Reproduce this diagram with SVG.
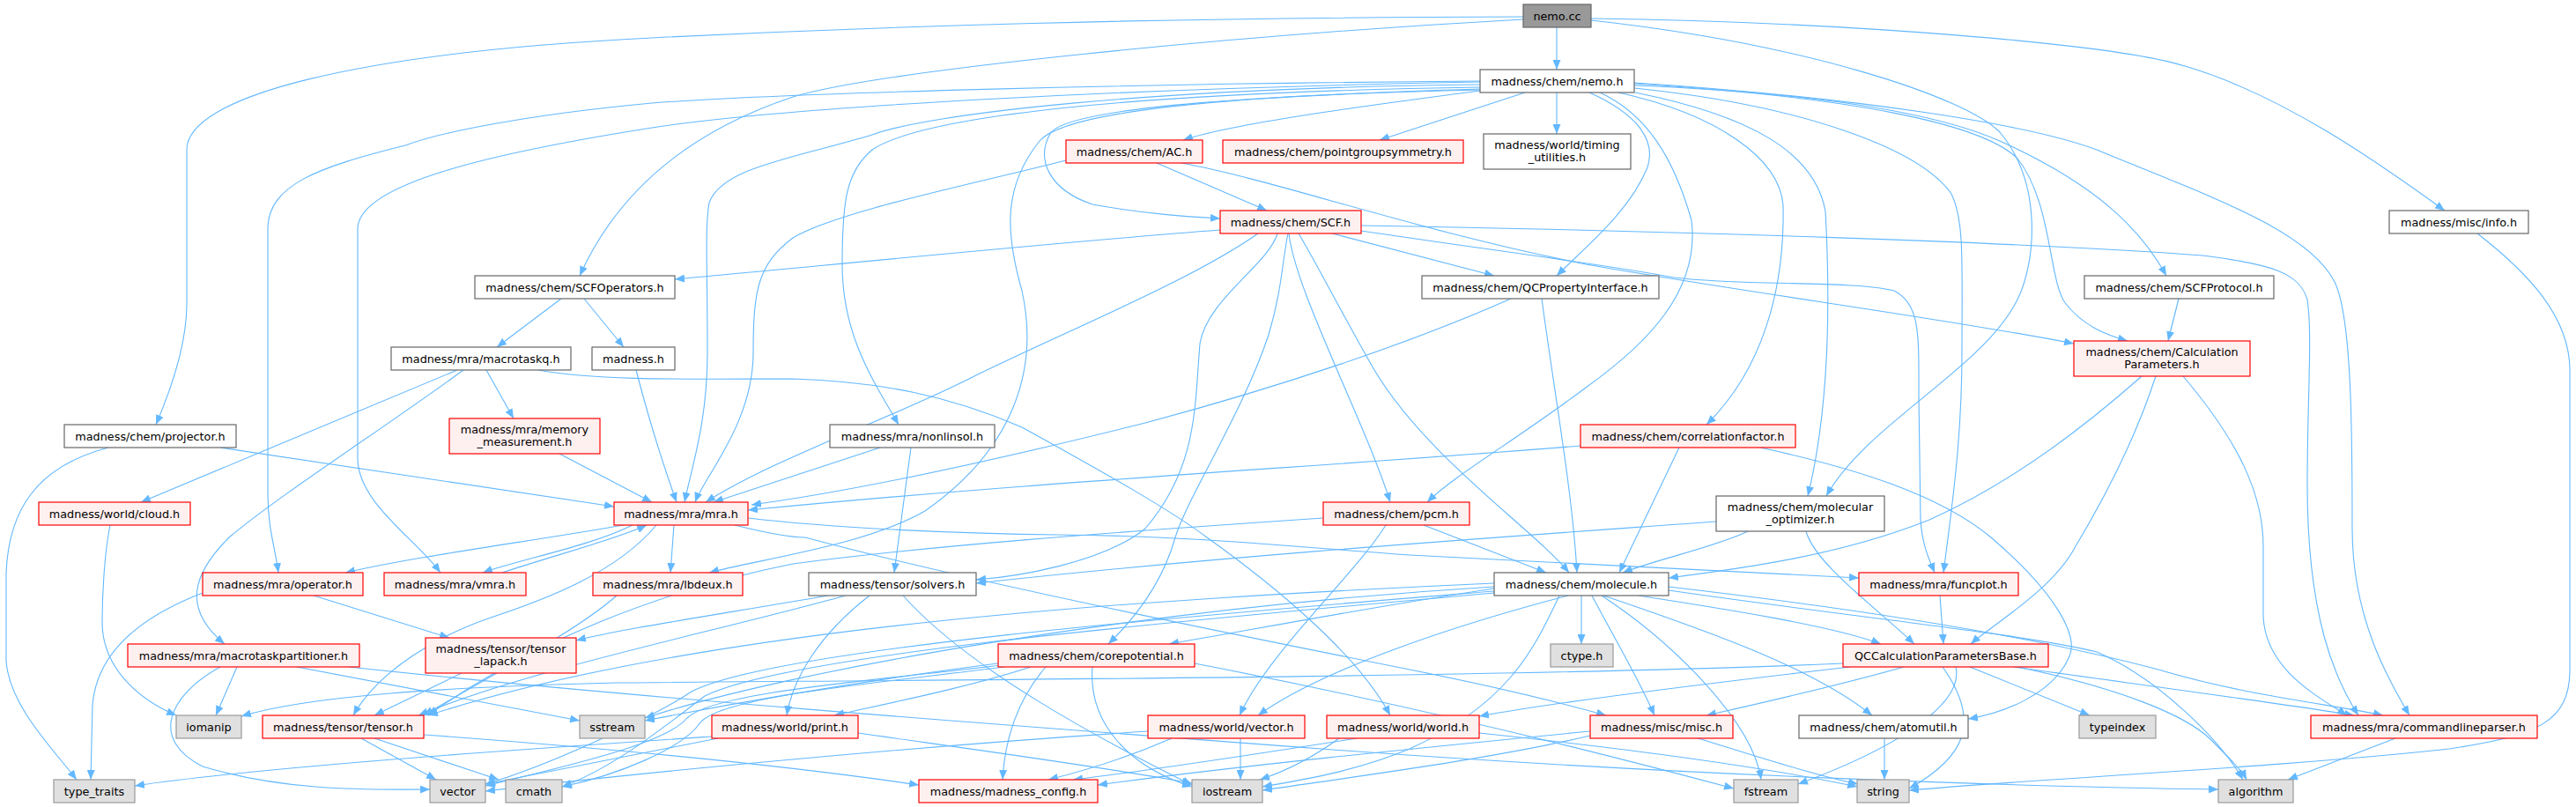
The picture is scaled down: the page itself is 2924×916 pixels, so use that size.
<svg xmlns="http://www.w3.org/2000/svg" width="2924" height="916" viewBox="0 0 2924 916">
<style>
.e{fill:none;stroke:#63b8ff;stroke-width:1.1;marker-end:url(#a)}
.w{fill:#ffffff;stroke:#666666;stroke-width:1.2}
.r{fill:#fff0f0;stroke:#ff0000;stroke-width:1.2}
.s{fill:#e0e0e0;stroke:#999999;stroke-width:1.2}
.k{fill:#999999;stroke:#666666;stroke-width:1.2}
text{font-family:"DejaVu Sans","Liberation Sans",sans-serif;font-size:12.8px;text-anchor:middle;fill:#000000}
</style>
<defs>
<marker id="a" viewBox="0 0 11 9" refX="11" refY="4.5" markerWidth="11" markerHeight="9" markerUnits="userSpaceOnUse" orient="auto"><path d="M0,0 L11,4.5 L0,9 z" fill="#63b8ff"/></marker>
</defs>
<rect width="2924" height="916" fill="#ffffff"/>
<g id="edges">
<path class="e" d="M1767,31 L1767,79"/>
<path class="e" d="M1729,19 C1300,20 1000,30 740,43 C400,60 212,110 212,170 L212,345 C212,390 195,440 177,482"/>
<path class="e" d="M1729,22 C1400,40 1000,80 900,110 C780,150 700,220 658,313"/>
<path class="e" d="M1806,21 C2100,25 2400,50 2480,75 C2600,110 2720,200 2775,239"/>
<path class="e" d="M1806,23 C2050,50 2230,110 2270,150 C2320,210 2310,300 2290,340 C2250,420 2120,480 2073,563"/>
<path class="e" d="M1680,103 C1550,120 1400,140 1343,159"/>
<path class="e" d="M1731,105 L1566,159"/>
<path class="e" d="M1767,105 L1767,152"/>
<path class="e" d="M1680,101 C1450,108 1220,120 1193,150 C1175,180 1190,215 1240,232 C1300,243 1350,246 1385,248"/>
<path class="e" d="M1804,105 C1860,130 1880,160 1870,190 C1850,240 1800,280 1767,313"/>
<path class="e" d="M1855,97 C2050,105 2190,125 2270,160 C2380,210 2430,260 2459,313"/>
<path class="e" d="M1855,95 C2100,110 2250,140 2290,180 C2330,230 2325,320 2345,345 C2365,370 2390,380 2415,387"/>
<path class="e" d="M1855,94 C2100,110 2300,140 2380,170 C2500,220 2620,260 2650,320 C2670,360 2670,500 2670,600 C2670,700 2710,770 2735,812"/>
<path class="e" d="M1855,100 C2050,120 2180,170 2215,220 C2230,250 2227,300 2227,400 C2227,500 2215,580 2206,650"/>
<path class="e" d="M1856,105 C1980,130 2060,170 2072,240 C2078,350 2075,470 2052,563"/>
<path class="e" d="M1837,105 C1950,130 2020,180 2024,233 C2026,330 2000,420 1937,482"/>
<path class="e" d="M1816,105 C1870,130 1900,180 1920,250 C1930,330 1870,390 1800,440 C1720,500 1650,540 1620,570"/>
<path class="e" d="M1680,99 C1300,105 1050,130 990,170 C960,195 956,230 956,300 C956,380 990,430 1020,482"/>
<path class="e" d="M1680,96 C1300,100 1050,130 990,153 C900,180 820,190 805,230 C800,260 803,300 803,400 C803,480 785,530 777,570"/>
<path class="e" d="M1680,93 C1300,100 900,120 740,145 C550,175 406,210 406,260 L406,520 C406,570 470,610 500,650"/>
<path class="e" d="M1680,92 C1300,95 900,105 740,117 C600,130 500,150 460,165 C360,190 304,210 304,260 L304,560 C304,600 312,620 316,650"/>
<path class="e" d="M1680,102 C1400,108 1210,125 1180,160 C1140,210 1140,260 1160,330 C1180,420 1150,510 1050,580 C980,620 860,635 805,650"/>
<path class="e" d="M1313,185 L1438,239"/>
<path class="e" d="M1210,182 C1100,210 950,240 900,270 C860,300 855,330 855,400 C855,480 800,540 789,570"/>
<path class="e" d="M1341,185 C1450,205 1600,260 1800,300 C2000,335 2200,360 2354,390"/>
<path class="e" d="M1385,261 C1200,275 900,305 766,317"/>
<path class="e" d="M1428,265 C1350,320 1200,380 1100,430 C1000,480 880,520 801,570"/>
<path class="e" d="M1450,265 C1440,300 1370,340 1362,390 C1356,460 1360,530 1300,600 C1250,640 1150,655 1108,658"/>
<path class="e" d="M1462,265 C1455,300 1455,330 1440,380 C1410,470 1350,560 1334,610 C1320,660 1290,700 1258,731"/>
<path class="e" d="M1512,265 L1696,313"/>
<path class="e" d="M1474,265 C1495,300 1520,350 1560,420 C1620,520 1740,600 1781,650"/>
<path class="e" d="M1463,265 C1470,330 1550,480 1578,570"/>
<path class="e" d="M1545,256 C1900,262 2300,275 2500,290 C2580,300 2610,310 2619,340 C2625,380 2619,450 2619,550 C2619,700 2650,770 2677,812"/>
<path class="e" d="M1545,262 C1700,285 1820,300 1900,315 C1980,325 2100,318 2150,330 C2180,345 2178,380 2178,450 L2180,590 C2182,620 2190,635 2196,650"/>
<path class="e" d="M637,339 L564,394"/>
<path class="e" d="M663,339 L708,394"/>
<path class="e" d="M1715,339 C1600,390 1450,440 1300,480 C1100,530 950,560 853,573"/>
<path class="e" d="M1750,339 C1765,450 1785,560 1790,650"/>
<path class="e" d="M2473,339 L2461,387"/>
<path class="e" d="M2431,427 C2360,490 2280,550 2190,590 C2090,630 1980,645 1894,656"/>
<path class="e" d="M2447,427 C2420,510 2380,580 2356,620 C2330,670 2260,710 2237,731"/>
<path class="e" d="M2478,427 C2540,500 2569,560 2569,620 L2569,700 C2572,760 2630,790 2664,812"/>
<path class="e" d="M552,420 L583,475"/>
<path class="e" d="M519,420 L160,570"/>
<path class="e" d="M526,420 C430,490 320,560 260,610 C220,650 205,690 255,731"/>
<path class="e" d="M611,420 C680,433 800,430 900,430 C1000,433 1080,450 1160,485 C1260,540 1330,580 1370,610 C1440,660 1540,740 1578,812"/>
<path class="e" d="M722,420 C735,470 750,520 768,570"/>
<path class="e" d="M123,508 C40,530 10,580 7,650 L7,750 C10,800 60,850 87,885"/>
<path class="e" d="M250,508 L697,575"/>
<path class="e" d="M635,515 L740,570"/>
<path class="e" d="M999,508 L810,570"/>
<path class="e" d="M1034,508 L1015,650"/>
<path class="e" d="M1794,506 C1500,530 1200,545 849,579"/>
<path class="e" d="M1906,508 L1838,650"/>
<path class="e" d="M1998,508 C2100,530 2200,560 2260,610 C2330,670 2360,720 2349,745 C2330,790 2270,810 2234,816"/>
<path class="e" d="M125,596 C118,630 116,680 116,706 C116,760 160,795 200,812"/>
<path class="e" d="M1616,596 L1755,650"/>
<path class="e" d="M1573,596 C1540,650 1440,740 1407,812"/>
<path class="e" d="M1502,588 C1250,605 1050,620 900,640 C750,670 600,730 486,812"/>
<path class="e" d="M1984,603 C1950,620 1880,635 1842,650"/>
<path class="e" d="M1948,592 C1700,610 1400,630 1108,662"/>
<path class="e" d="M2050,603 C2060,640 2130,690 2173,731"/>
<path class="e" d="M2202,676 L2206,731"/>
<path class="e" d="M230,673 C160,700 110,740 105,800 L103,885"/>
<path class="e" d="M356,676 L510,724"/>
<path class="e" d="M524,764 L425,812"/>
<path class="e" d="M708,596 C600,615 480,630 392,650"/>
<path class="e" d="M718,596 C670,620 590,635 548,650"/>
<path class="e" d="M570,650 C630,630 700,612 734,596"/>
<path class="e" d="M765,596 L761,650"/>
<path class="e" d="M745,596 C700,650 620,680 560,700 C500,720 430,760 401,812"/>
<path class="e" d="M849,588 C950,600 1100,606 1200,607 C1350,608 1460,620 1600,630 C1800,640 2000,650 2110,656"/>
<path class="e" d="M834,596 C870,605 900,610 914,610 C1100,660 1400,720 1600,760 C1700,780 1780,800 1823,812"/>
<path class="e" d="M700,676 C650,720 550,770 481,812"/>
<path class="e" d="M940,676 C800,700 700,715 654,727"/>
<path class="e" d="M960,676 C800,720 600,760 475,812"/>
<path class="e" d="M987,676 C930,720 900,770 893,812"/>
<path class="e" d="M1025,676 C1100,760 1250,840 1353,891"/>
<path class="e" d="M269,757 L245,812"/>
<path class="e" d="M337,757 L658,818"/>
<path class="e" d="M250,757 C190,790 170,840 230,870 C330,900 430,896 488,896"/>
<path class="e" d="M396,757 C700,790 1100,820 1500,850 C1900,880 2300,893 2518,896"/>
<path class="e" d="M1170,757 C1100,780 1000,800 947,812"/>
<path class="e" d="M1187,757 C1150,800 1140,850 1138,885"/>
<path class="e" d="M1240,757 C1235,820 1280,870 1353,893"/>
<path class="e" d="M1356,753 C1600,800 1800,850 1968,895"/>
<path class="e" d="M1140,752 C1000,770 850,795 732,818"/>
<path class="e" d="M1136,755 C1000,772 810,785 780,815 C755,845 640,870 551,892"/>
<path class="e" d="M1140,757 C1000,775 820,790 795,820 C775,850 700,880 638,893"/>
<path class="e" d="M1696,668 C1550,690 1420,715 1327,731"/>
<path class="e" d="M1795,676 L1795,731"/>
<path class="e" d="M1807,676 C1830,720 1860,770 1878,812"/>
<path class="e" d="M1820,676 C1950,720 2060,760 2125,812"/>
<path class="e" d="M1860,676 C1950,690 2080,710 2135,731"/>
<path class="e" d="M1780,676 C1650,710 1500,760 1428,812"/>
<path class="e" d="M1818,676 C1900,730 1990,820 1999,885"/>
<path class="e" d="M1770,676 C1740,740 1710,800 1600,850 C1540,875 1480,885 1433,893"/>
<path class="e" d="M1696,662 C1300,680 800,710 486,812"/>
<path class="e" d="M1696,666 C1300,690 900,760 732,815"/>
<path class="e" d="M1696,671 C1400,695 880,735 785,785 C740,815 620,870 551,890"/>
<path class="e" d="M1696,673 C1400,700 900,740 800,790 C760,820 700,870 638,893"/>
<path class="e" d="M1894,666 C2100,690 2300,720 2450,760 C2550,790 2650,800 2705,812"/>
<path class="e" d="M1894,670 C2100,700 2300,720 2380,740 C2450,770 2520,840 2546,885"/>
<path class="e" d="M2092,753 C1700,770 1000,772 700,775 C500,780 350,790 274,813"/>
<path class="e" d="M2100,757 C1900,780 1750,800 1679,813"/>
<path class="e" d="M2161,757 C2080,780 1990,800 1937,812"/>
<path class="e" d="M2236,757 L2372,812"/>
<path class="e" d="M2286,757 C2450,780 2600,800 2672,812"/>
<path class="e" d="M2290,757 C2400,780 2480,810 2510,840 C2530,860 2545,875 2550,885"/>
<path class="e" d="M2220,757 C2230,800 2150,850 2041,890"/>
<path class="e" d="M2205,757 C2250,820 2230,860 2167,895"/>
<path class="e" d="M808,836 C600,850 300,870 153,892"/>
<path class="e" d="M974,832 C1100,850 1250,870 1353,889"/>
<path class="e" d="M815,838 C700,860 600,880 551,890"/>
<path class="e" d="M1408,838 L1408,885"/>
<path class="e" d="M1330,838 C1280,860 1230,875 1190,885"/>
<path class="e" d="M1303,830 C1000,850 700,880 551,898"/>
<path class="e" d="M1520,838 C1490,860 1460,875 1430,885"/>
<path class="e" d="M1540,838 C1400,860 1300,875 1218,885"/>
<path class="e" d="M1679,832 C1850,850 2000,870 2108,893"/>
<path class="e" d="M1805,835 C1700,860 1550,880 1433,897"/>
<path class="e" d="M1927,838 C2000,860 2060,880 2109,890"/>
<path class="e" d="M1805,830 C1600,850 1400,870 1246,891"/>
<path class="e" d="M2139,838 L2139,885"/>
<path class="e" d="M2812,265 C2870,310 2917,360 2917,420 L2917,760 C2917,820 2880,835 2780,850 C2600,870 2300,885 2167,897"/>
<path class="e" d="M2719,838 L2597,885"/>
<path class="e" d="M410,838 L495,885"/>
<path class="e" d="M425,838 L566,885"/>
<path class="e" d="M481,834 C700,850 900,870 1043,891"/>
</g>
<g id="n0"><rect class="k" x="1729" y="5" width="77" height="26"/><text x="1767.5" y="22.5">nemo.cc</text></g>
<g id="n1"><rect class="w" x="1680" y="79" width="175" height="26"/><text x="1767.5" y="96.5">madness/chem/nemo.h</text></g>
<g id="n2"><rect class="r" x="1210" y="159" width="155" height="26"/><text x="1287.5" y="176.5">madness/chem/AC.h</text></g>
<g id="n3"><rect class="r" x="1388" y="159" width="273" height="26"/><text x="1524.5" y="176.5">madness/chem/pointgroupsymmetry.h</text></g>
<g id="n4"><rect class="w" x="1684" y="152" width="167" height="40"/><text x="1767.5" y="169">madness/world/timing</text><text x="1767.5" y="183">_utilities.h</text></g>
<g id="n5"><rect class="r" x="1385" y="239" width="160" height="26"/><text x="1465" y="256.5">madness/chem/SCF.h</text></g>
<g id="n6"><rect class="w" x="2712" y="239" width="158" height="26"/><text x="2791" y="256.5">madness/misc/info.h</text></g>
<g id="n7"><rect class="w" x="539" y="313" width="227" height="26"/><text x="652.5" y="330.5">madness/chem/SCFOperators.h</text></g>
<g id="n8"><rect class="w" x="1614" y="313" width="269" height="26"/><text x="1748.5" y="330.5">madness/chem/QCPropertyInterface.h</text></g>
<g id="n9"><rect class="w" x="2366" y="313" width="215" height="26"/><text x="2473.5" y="330.5">madness/chem/SCFProtocol.h</text></g>
<g id="n10"><rect class="w" x="444" y="394" width="204" height="26"/><text x="546" y="411.5">madness/mra/macrotaskq.h</text></g>
<g id="n11"><rect class="w" x="672" y="394" width="94" height="26"/><text x="719" y="411.5">madness.h</text></g>
<g id="n12"><rect class="r" x="2354" y="387" width="200" height="40"/><text x="2454" y="404">madness/chem/Calculation</text><text x="2454" y="418">Parameters.h</text></g>
<g id="n13"><rect class="w" x="73" y="482" width="195" height="26"/><text x="170.5" y="499.5">madness/chem/projector.h</text></g>
<g id="n14"><rect class="r" x="510" y="475" width="171" height="40"/><text x="595.5" y="492">madness/mra/memory</text><text x="595.5" y="506">_measurement.h</text></g>
<g id="n15"><rect class="w" x="942" y="482" width="187" height="26"/><text x="1035.5" y="499.5">madness/mra/nonlinsol.h</text></g>
<g id="n16"><rect class="r" x="1794" y="482" width="244" height="26"/><text x="1916" y="499.5">madness/chem/correlationfactor.h</text></g>
<g id="n17"><rect class="r" x="44" y="570" width="172" height="26"/><text x="130" y="587.5">madness/world/cloud.h</text></g>
<g id="n18"><rect class="r" x="697" y="570" width="152" height="26"/><text x="773" y="587.5">madness/mra/mra.h</text></g>
<g id="n19"><rect class="r" x="1502" y="570" width="166" height="26"/><text x="1585" y="587.5">madness/chem/pcm.h</text></g>
<g id="n20"><rect class="w" x="1948" y="563" width="191" height="40"/><text x="2043.5" y="580">madness/chem/molecular</text><text x="2043.5" y="594">_optimizer.h</text></g>
<g id="n21"><rect class="r" x="230" y="650" width="182" height="26"/><text x="321" y="667.5">madness/mra/operator.h</text></g>
<g id="n22"><rect class="r" x="436" y="650" width="161" height="26"/><text x="516.5" y="667.5">madness/mra/vmra.h</text></g>
<g id="n23"><rect class="r" x="673" y="650" width="170" height="26"/><text x="758" y="667.5">madness/mra/lbdeux.h</text></g>
<g id="n24"><rect class="w" x="918" y="650" width="190" height="26"/><text x="1013" y="667.5">madness/tensor/solvers.h</text></g>
<g id="n25"><rect class="w" x="1696" y="650" width="198" height="26"/><text x="1795" y="667.5">madness/chem/molecule.h</text></g>
<g id="n26"><rect class="r" x="2110" y="650" width="181" height="26"/><text x="2200.5" y="667.5">madness/mra/funcplot.h</text></g>
<g id="n27"><rect class="r" x="145" y="731" width="263" height="26"/><text x="276.5" y="748.5">madness/mra/macrotaskpartitioner.h</text></g>
<g id="n28"><rect class="r" x="483" y="724" width="171" height="40"/><text x="568.5" y="741">madness/tensor/tensor</text><text x="568.5" y="755">_lapack.h</text></g>
<g id="n29"><rect class="r" x="1133" y="731" width="223" height="26"/><text x="1244.5" y="748.5">madness/chem/corepotential.h</text></g>
<g id="n30"><rect class="s" x="1760" y="731" width="71" height="26"/><text x="1795.5" y="748.5">ctype.h</text></g>
<g id="n31"><rect class="r" x="2092" y="731" width="233" height="26"/><text x="2208.5" y="748.5">QCCalculationParametersBase.h</text></g>
<g id="n32"><rect class="s" x="200" y="812" width="74" height="26"/><text x="237" y="829.5">iomanip</text></g>
<g id="n33"><rect class="r" x="298" y="812" width="183" height="26"/><text x="389.5" y="829.5">madness/tensor/tensor.h</text></g>
<g id="n34"><rect class="s" x="658" y="812" width="74" height="26"/><text x="695" y="829.5">sstream</text></g>
<g id="n35"><rect class="r" x="808" y="812" width="166" height="26"/><text x="891" y="829.5">madness/world/print.h</text></g>
<g id="n36"><rect class="r" x="1303" y="812" width="178" height="26"/><text x="1392" y="829.5">madness/world/vector.h</text></g>
<g id="n37"><rect class="r" x="1506" y="812" width="173" height="26"/><text x="1592.5" y="829.5">madness/world/world.h</text></g>
<g id="n38"><rect class="r" x="1805" y="812" width="162" height="26"/><text x="1886" y="829.5">madness/misc/misc.h</text></g>
<g id="n39"><rect class="w" x="2042" y="812" width="192" height="26"/><text x="2138" y="829.5">madness/chem/atomutil.h</text></g>
<g id="n40"><rect class="s" x="2360" y="812" width="87" height="26"/><text x="2403.5" y="829.5">typeindex</text></g>
<g id="n41"><rect class="r" x="2623" y="812" width="257" height="26"/><text x="2751.5" y="829.5">madness/mra/commandlineparser.h</text></g>
<g id="n42"><rect class="s" x="61" y="885" width="92" height="26"/><text x="107" y="902.5">type_traits</text></g>
<g id="n43"><rect class="s" x="488" y="885" width="63" height="26"/><text x="519.5" y="902.5">vector</text></g>
<g id="n44"><rect class="s" x="574" y="885" width="64" height="26"/><text x="606" y="902.5">cmath</text></g>
<g id="n45"><rect class="r" x="1043" y="885" width="203" height="26"/><text x="1144.5" y="902.5">madness/madness_config.h</text></g>
<g id="n46"><rect class="s" x="1353" y="885" width="80" height="26"/><text x="1393" y="902.5">iostream</text></g>
<g id="n47"><rect class="s" x="1968" y="885" width="73" height="26"/><text x="2004.5" y="902.5">fstream</text></g>
<g id="n48"><rect class="s" x="2108" y="885" width="59" height="26"/><text x="2137.5" y="902.5">string</text></g>
<g id="n49"><rect class="s" x="2518" y="885" width="85" height="26"/><text x="2560.5" y="902.5">algorithm</text></g>
</svg>
